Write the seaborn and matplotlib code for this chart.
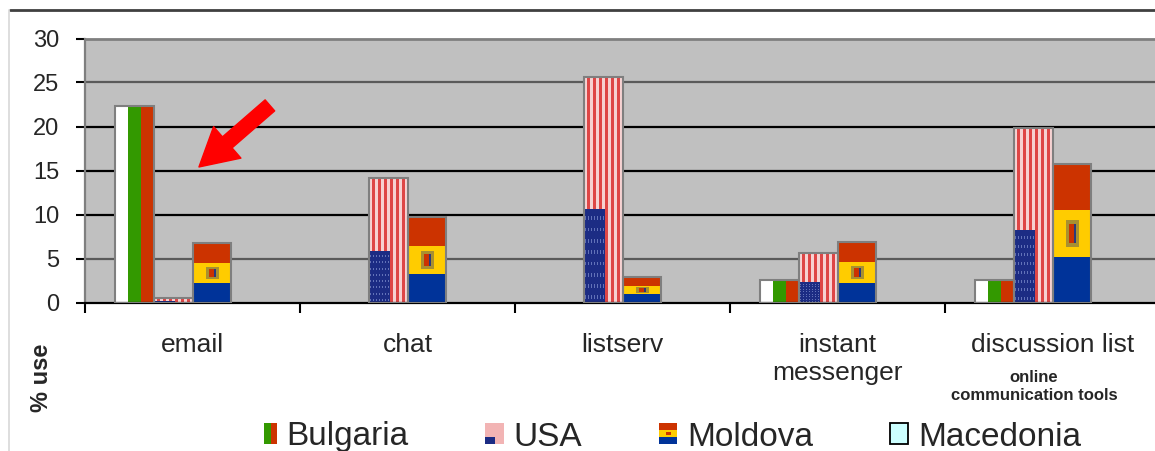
import numpy as np
import pandas as pd
import matplotlib
matplotlib.use("Agg")
import matplotlib.pyplot as plt
import matplotlib.colors as mcolors
import seaborn as sns
from matplotlib.patches import Rectangle, Patch
from matplotlib.lines import Line2D
from matplotlib.legend_handler import HandlerBase

# ---------------- data ----------------
categories = ["email", "chat", "listserv", "instant\nmessenger", "discussion list"]
countries = ["Bulgaria", "USA", "Moldova", "Macedonia"]
bulgaria = [22.3, 0.0, 0.0, 2.6, 2.6]
usa = [0.5, 14.2, 25.6, 5.6, 19.8]
moldova = [6.75, 9.75, 2.95, 6.9, 15.7]
macedonia = [0.0, 0.0, 0.0, 0.0, 0.0]
y_ticks = [0, 5, 10, 15, 20, 25, 30]
x_title = "online\ncommunication tools"
y_title = "% use"

df = pd.DataFrame({
    "tool": categories * 4,
    "country": [c for c in countries for _ in categories],
    "value": bulgaria + usa + moldova + macedonia,
})

# ---------------- style ----------------
sns.set_style("white")
plt.rcParams["font.family"] = ["Liberation Sans", "DejaVu Sans"]

C = lambda h: np.array(mcolors.to_rgb(h))
WHITE, GREEN, RED = C("#FFFFFF"), C("#339900"), C("#CC3300")
BLUE, YELLOW = C("#003399"), C("#FFCC00")
US_RED, US_WHITE = C("#DE4646"), C("#F6D2D2")
NAVY, STAR = C("#1C2C84"), C("#6272B8")
OLIVE, EMB_BLUE = C("#A89030"), C("#2A3A7A")


def flag_image(country):
    if country == "Bulgaria":
        return np.array([[WHITE, GREEN, RED]])
    if country == "USA":
        rows, cols = 60, 39
        img = np.zeros((rows, cols, 3))
        for c in range(cols):
            img[:, c] = US_WHITE if (c // 3) % 2 == 0 else US_RED
        ch = int(round(0.41 * rows))
        for r in range(ch):
            for c in range(21):
                img[r, c] = STAR if (r % 3 == 1 and c % 3 == 1) else NAVY
        return img
    if country == "Moldova":
        rows, cols = 30, 15
        img = np.zeros((rows, cols, 3))
        img[0:10] = BLUE
        img[10:20] = YELLOW
        img[20:30] = RED
        img[12:18, 5:10] = OLIVE
        img[13:17, 6:8] = RED
        img[13:17, 8:9] = EMB_BLUE
        return img
    return np.array([[C("#CCFFFF")]])


fig = plt.figure(figsize=(11.55, 4.51), dpi=100)
ax = fig.add_axes([85 / 1155, 1 - 302.5 / 451, 1075 / 1155, (302.5 - 38.5) / 451])
ax.set_facecolor("#C0C0C0")

sns.barplot(data=df, x="tool", y="value", hue="country", order=categories,
            hue_order=countries, width=0.72, ax=ax, legend=False, errorbar=None,
            edgecolor="#7F7F7F", linewidth=1.5, saturation=1)

for cont, country in zip(ax.containers, countries):
    for bar in cont:
        x0, w, h = bar.get_x(), bar.get_width(), bar.get_height()
        if h <= 0:
            bar.set_visible(False)
            continue
        ax.imshow(flag_image(country), extent=(x0, x0 + w, 0, h), origin="lower",
                  aspect="auto", interpolation="nearest", zorder=2)
        bar.set_facecolor("none")
        bar.set_zorder(3)

ax.set_xlim(-0.5, len(categories) - 0.5)
ax.set_ylim(0, 30)
ax.set_yticks(y_ticks)
ax.set_xticks(range(len(categories)))
ax.set_xticklabels(categories)
ax.set_xticks(np.arange(-0.5, len(categories), 1), minor=True)
ax.set_xlabel("")
ax.set_ylabel("")

ax.set_axisbelow(True)
ax.yaxis.grid(True)
for line, val in zip(ax.get_ygridlines(), ax.get_yticks()):
    if val in (0, 30):
        line.set_visible(False)
    else:
        line.set_color("#5A5A5A" if val in (5, 25) else "#000000")
        line.set_linewidth(1.6)

ax.tick_params(axis="y", direction="out", length=6.5, width=1.5, color="black",
               labelsize=17, pad=12, left=True)
ax.tick_params(axis="x", which="major", length=0, pad=22, labelsize=19)
ax.tick_params(axis="x", which="minor", direction="out", length=7, width=1.5,
               color="black", bottom=True)

ax.spines["left"].set_color("#7F7F7F")
ax.spines["left"].set_linewidth(1.6)
ax.spines["top"].set_color("#7F7F7F")
ax.spines["top"].set_linewidth(2)
ax.spines["bottom"].set_color("#000000")
ax.spines["bottom"].set_linewidth(1.6)
ax.spines["right"].set_visible(False)

# red arrow annotation
ax.annotate("", xy=(0.03, 15.4), xytext=(0.36, 22.4),
            arrowprops=dict(arrowstyle="simple,head_length=0.9,head_width=1.0,tail_width=0.35",
                            color="#FF0000", mutation_scale=30, shrinkA=0, shrinkB=0),
            zorder=5)

fig.text(42 / 1155, 1 - 378 / 451, y_title, rotation=90, fontsize=17,
         fontweight="bold", ha="center", va="center")
fig.text(1034 / 1155, 1 - 370 / 451, x_title, fontsize=12, fontweight="bold",
         ha="center", va="top", linespacing=1.25)

# outer chart border
fig.add_artist(Line2D([10 / 1155, 1], [1 - 10 / 451] * 2, color="#404040", lw=2))
fig.add_artist(Line2D([9 / 1155] * 2, [0, 1 - 10 / 451], color="#D8D8D8", lw=1.2))


class FlagHandler(HandlerBase):
    def __init__(self, parts, edge=None):
        super().__init__()
        self.parts = parts
        self.edge = edge

    def create_artists(self, legend, orig_handle, xdescent, ydescent, width,
                       height, fontsize, trans):
        arts = []
        for fx, fy, fw, fh, col in self.parts:
            arts.append(Rectangle((-xdescent + fx * width, -ydescent + fy * height),
                                  fw * width, fh * height, facecolor=col,
                                  edgecolor="none", transform=trans))
        if self.edge:
            arts.append(Rectangle((-xdescent, -ydescent), width, height,
                                  facecolor="none", edgecolor=self.edge, lw=1.3,
                                  transform=trans))
        return arts


legend_parts = {
    "Bulgaria": ([(0, 0, .33, 1, "#FFFFFF"), (.33, 0, .34, 1, "#339900"),
                  (.67, 0, .33, 1, "#CC3300")], None),
    "USA": ([(0, 0, 1, 1, "#F2B4B4"), (0, 0, .5, .35, "#1C2C84")], None),
    "Moldova": ([(0, 0, 1, .33, "#003399"), (0, .33, 1, .34, "#FFCC00"),
                 (0, .67, 1, .33, "#CC3300"), (.35, .42, .3, .16, "#CC3300")], None),
    "Macedonia": ([(0, 0, 1, 1, "#CCFFFF")], "#000000"),
}
handles = [Patch(label=c) for c in countries]
hmap = {h: FlagHandler(*legend_parts[c]) for h, c in zip(handles, countries)}
fig.legend(handles, countries, handler_map=hmap, loc="center",
           bbox_to_anchor=(0.58, 1 - 437 / 451), ncol=4, frameon=False,
           fontsize=24, handlelength=0.55, handleheight=0.6, handletextpad=0.3,
           columnspacing=2.3, borderpad=0, borderaxespad=0)

fig.savefig("out.png", dpi=100, facecolor="white")
